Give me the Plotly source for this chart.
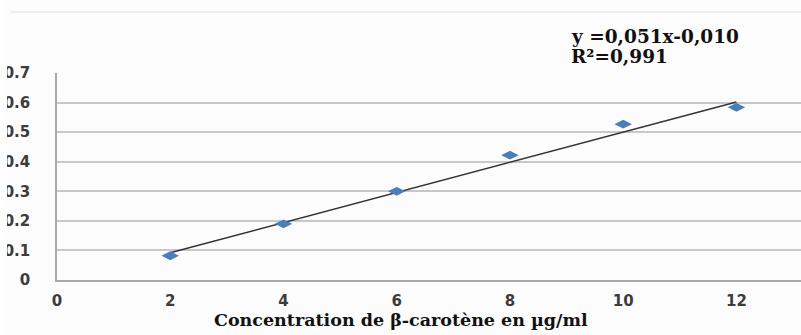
import plotly.graph_objects as go

# Calibration data: beta-carotene concentration vs absorbance
concentration = [2, 4, 6, 8, 10, 12]
absorbance = [0.082, 0.190, 0.300, 0.422, 0.527, 0.584]

# Linear regression parameters (as printed in the equation)
slope = 0.051
intercept = -0.010
r_squared = 0.991

x_ticks = [0, 2, 4, 6, 8, 10, 12]
y_ticks = [0, 0.1, 0.2, 0.3, 0.4, 0.5, 0.6, 0.7]
y_tick_text = ["0", "0.1", "0.2", "0.3", "0.4", "0.5", "0.6", "0.7"]

x_title = "Concentration de β-carotène en µg/ml"
equation = f"y ={slope:.3f}x-{abs(intercept):.3f}".replace(".", ",")
r2_text = f"R²={r_squared:.3f}".replace(".", ",")

trend_x = [concentration[0], concentration[-1]]
trend_y = [slope * v + intercept for v in trend_x]

W, H = 801, 335
ML, MR, MT, MB = 57, 0, 73, 55
PW = W - ML - MR
PH = H - MT - MB


def px_x(p):
    """Horizontal pixel -> paper coordinate."""
    return (p - ML) / PW


def px_y(p):
    """Vertical pixel (from top) -> paper coordinate."""
    return (H - MB - p) / PH


fig = go.Figure()

fig.add_trace(go.Scatter(
    x=trend_x, y=trend_y, mode="lines",
    line=dict(color="#333333", width=1.4),
    hoverinfo="skip", showlegend=False,
))

fig.add_trace(go.Scatter(
    x=concentration, y=absorbance, mode="markers",
    marker=dict(symbol="diamond-wide", size=12.5, color="#4a7ebb",
                line=dict(width=0)),
    showlegend=False,
))

tick_font = dict(family="DejaVu Sans", size=15, color="#3c3c3c", weight="bold")
serif_bold = dict(family="DejaVu Serif", color="#111111", weight="bold")

fig.update_layout(
    width=W, height=H,
    margin=dict(l=ML, r=MR, t=MT, b=MB),
    paper_bgcolor="#fcfcfc",
    plot_bgcolor="#fcfcfc",
    xaxis=dict(
        range=[0, 13.14],
        tickvals=x_ticks,
        showgrid=False,
        showline=True, linecolor="#a8a8a8", linewidth=1.5,
        zeroline=False,
        ticks="",
        ticklabelstandoff=6,
        tickfont=tick_font,
    ),
    yaxis=dict(
        range=[0, 0.7],
        tickvals=y_ticks,
        ticktext=y_tick_text,
        showgrid=True, gridcolor="#c8c8c8", gridwidth=1.5,
        showline=True, linecolor="#a8a8a8", linewidth=1.5,
        zeroline=False,
        ticks="",
        ticklabelstandoff=22,
        tickfont=tick_font,
    ),
    annotations=[
        dict(xref="paper", yref="paper", x=px_x(401), y=px_y(320),
             xanchor="center", yanchor="middle", showarrow=False,
             text=x_title, font=dict(size=17.5, **serif_bold)),
        dict(xref="paper", yref="paper", x=px_x(569), y=px_y(37),
             xanchor="left", yanchor="middle", showarrow=False,
             text=equation, font=dict(size=18.5, **serif_bold)),
        dict(xref="paper", yref="paper", x=px_x(569), y=px_y(56),
             xanchor="left", yanchor="middle", showarrow=False,
             text=r2_text, font=dict(size=18.5, **serif_bold)),
    ],
    shapes=[
        # faint rule along the top of the frame
        dict(type="line", xref="paper", yref="paper",
             x0=px_x(10), x1=1.0, y0=px_y(12), y1=px_y(12),
             line=dict(color="#e0e0e0", width=1)),
        # left edge of the frame clips the leading digit of the y labels
        dict(type="rect", xref="paper", yref="paper", layer="above",
             x0=px_x(-5), x1=px_x(7), y0=px_y(H + 5), y1=px_y(-5),
             fillcolor="#ffffff", line=dict(width=0)),
    ],
)

fig.write_html("out.html")
